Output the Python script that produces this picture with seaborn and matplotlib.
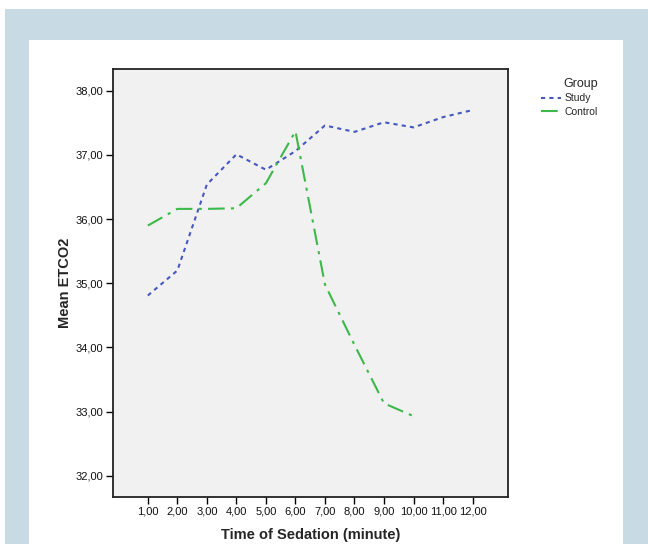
import matplotlib
matplotlib.use("Agg")
import matplotlib.pyplot as plt
from matplotlib.patches import Rectangle
from matplotlib.ticker import FuncFormatter
import numpy as np
import pandas as pd
import seaborn as sns

# values
minutes_study = [1, 2, 3, 4, 5, 6, 7, 8, 9, 10, 11, 12]
etco2_study = [34.81, 35.20, 36.54, 37.01, 36.77, 37.06, 37.46, 37.36, 37.51, 37.43, 37.59, 37.70]
minutes_control = [1, 2, 3, 4, 5, 6, 7, 8, 9, 10]
etco2_control = [35.90, 36.16, 36.16, 36.17, 36.56, 37.37, 34.98, 34.04, 33.13, 32.93]
groups = ["Study", "Control"]
y_ticks = [32, 33, 34, 35, 36, 37, 38]
x_ticks = list(range(1, 13))

df = pd.DataFrame({
    "Time": minutes_study + minutes_control,
    "ETCO2": etco2_study + etco2_control,
    "Group": [groups[0]] * len(minutes_study) + [groups[1]] * len(minutes_control),
})

sns.set_style("white")
plt.rcParams["font.family"] = ["Liberation Sans", "DejaVu Sans"]

fig = plt.figure(figsize=(6.48, 5.44), dpi=100)
W, H = 648, 544
# outer frame
fig.patches.append(Rectangle((5 / W, 0), (W - 5) / W, (H - 9) / H, transform=fig.transFigure,
                             facecolor="#c8dae3", edgecolor="none", zorder=-2))
fig.patches.append(Rectangle((29 / W, 0), (623 - 29) / W, (H - 40) / H, transform=fig.transFigure,
                             facecolor="white", edgecolor="none", zorder=-1))

ax = fig.add_axes([113 / W, 1 - 497 / H, (508 - 113) / W, (497 - 69) / H])
ax.set_facecolor("#f1f1f1")

palette = {"Study": "#4658c0", "Control": "#3cb94a"}
dashes = {"Study": (2, 2), "Control": (8, 3, 1.5, 3)}
sns.lineplot(data=df, x="Time", y="ETCO2", hue="Group", style="Group",
             palette=palette, dashes=dashes, linewidth=1.5, ax=ax, legend=True)

ax.set_xlim(-0.18, 13.2)
ax.set_ylim(31.67, 38.34)
ax.set_xticks(x_ticks)
ax.set_yticks(y_ticks)
comma = FuncFormatter(lambda v, p: f"{v:.2f}".replace(".", ","))
ax.xaxis.set_major_formatter(comma)
ax.yaxis.set_major_formatter(comma)
ax.tick_params(axis="both", direction="out", length=5, width=1, labelsize=8, color="black",
               labelcolor="#111111", bottom=True, left=True, pad=2)
for s in ax.spines.values():
    s.set_linewidth(1.3)
    s.set_color("#222222")

ax.set_xlabel("Time of Sedation (minute)", fontsize=10.5, fontweight="bold", labelpad=8)
ax.set_ylabel("Mean ETCO2", fontsize=10.5, fontweight="bold")
ax.yaxis.set_label_coords(-0.105, 0.5)

leg = ax.legend(title="Group", loc="upper left", bbox_to_anchor=(1.06, 1.0), frameon=False,
                fontsize=7.5, title_fontsize=9, handlelength=1.9, handletextpad=0.35,
                labelspacing=0.3)
leg._legend_box.align = "right"

fig.savefig("out.png", dpi=100, facecolor="white")
